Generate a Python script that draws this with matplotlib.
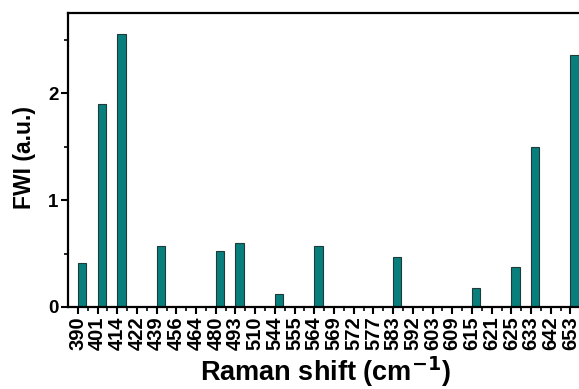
import numpy as np
import matplotlib.pyplot as plt
from matplotlib.ticker import MultipleLocator

plt.rcParams['font.family'] = ['Liberation Sans', 'DejaVu Sans']
plt.rcParams['font.weight'] = 'bold'
plt.rcParams['mathtext.default'] = 'bf'

# Raman shift categories (cm^-1) and FWI values
shifts = ['390', '401', '414', '422', '439', '456', '464', '480', '493',
          '510', '544', '555', '564', '569', '572', '577', '583', '592',
          '603', '609', '615', '621', '625', '633', '642', '653']
fwi = [0.41, 1.90, 2.55, 0.0, 0.57, 0.0, 0.0, 0.52, 0.60,
       0.0, 0.12, 0.0, 0.57, 0.0, 0.0, 0.0, 0.47, 0.0,
       0.0, 0.0, 0.18, 0.0, 0.37, 1.50, 0.0, 2.36]

x = np.arange(len(shifts))

fig = plt.figure(figsize=(5.79, 3.89), dpi=100)
ax = fig.add_axes([0.1174, 0.2108, 0.89, 0.7558])

ax.bar(x, fwi, width=0.42, align='edge', color='#087f7c',
       edgecolor='#1c3b3a', linewidth=0.8)

ax.set_xlim(-0.5, 25.65)
ax.set_ylim(0, 2.75)

ax.set_xticks(x)
ax.set_xticklabels(shifts, rotation=90, fontsize=14.5, fontweight='bold')
ax.set_xticks(x + 0.5, minor=True)
ax.yaxis.set_major_locator(MultipleLocator(1))
ax.yaxis.set_minor_locator(MultipleLocator(0.5))
for lab in ax.get_yticklabels():
    lab.set_fontsize(13.5)
    lab.set_fontweight('bold')

ax.tick_params(which='major', length=5, width=1.5, direction='out', pad=2)
ax.tick_params(which='minor', length=3, width=1.2, direction='out')
ax.tick_params(axis='x', which='both', top=False)
ax.tick_params(axis='y', which='both', right=False)

for side in ['left', 'bottom', 'top', 'right']:
    ax.spines[side].set_linewidth(1.6)

ax.set_xlabel('Raman shift (cm$^{-1}$)', fontsize=19.5, fontweight='bold',
              va='baseline')
ax.xaxis.set_label_coords(0.5, -0.25)
ax.set_ylabel('FWI (a.u.)', fontsize=16.5, fontweight='bold', va='center')
ax.yaxis.set_label_coords(-0.085, 0.507)

fig.savefig('out.png', dpi=100)
